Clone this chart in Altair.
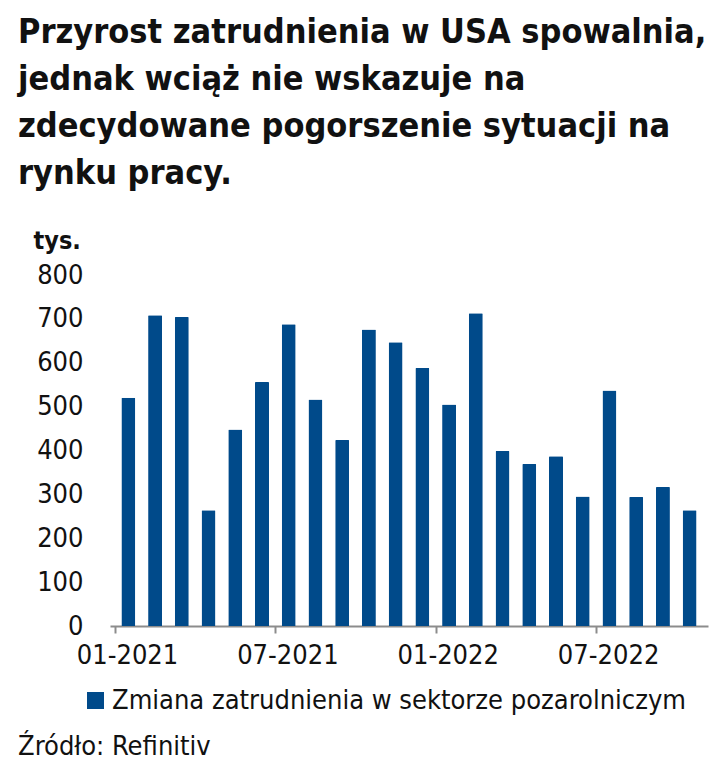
import altair as alt
import pandas as pd

months = list(range(22))  # Jan 2021 .. Oct 2022
values = [520, 708, 704, 264, 448, 556, 688, 516, 424, 676, 647, 588,
          505, 713, 399, 369, 387, 295, 537, 294, 317, 264]
tick_labels = ["01-2021", "07-2021", "01-2022", "07-2022"]
series_name = "Zmiana zatrudnienia w sektorze pozarolniczym"
title_lines = ["Przyrost zatrudnienia w USA spowalnia,",
               "jednak wciąż nie wskazuje na",
               "zdecydowane pogorszenie sytuacji na",
               "rynku pracy."]
source_text = "Źródło: Refinitiv"

df = pd.DataFrame({"m": [m + 0.5 for m in months], "v": values, "s": series_name})

FONT = "DejaVu Sans Condensed"
BLUE = "#004a8a"
TXT = "#111111"

label_expr = "[" + ",".join("'%s'" % t for t in tick_labels) + "][datum.value/6]"

bars = alt.Chart(df).mark_bar(size=14, cornerRadiusTopLeft=1, cornerRadiusTopRight=1).encode(
    x=alt.X("m:Q", scale=alt.Scale(domain=[0, 22], nice=False, zero=False),
            axis=alt.Axis(values=[0, 6, 12, 18], labelExpr=label_expr, title=None,
                          grid=False, domainColor="#8c8c8c", domainWidth=2,
                          tickColor="#8c8c8c", tickWidth=2, tickSize=7,
                          labelPadding=9, labelFontSize=27, labelFont=FONT,
                          labelColor=TXT, labelFlush=False, labelOffset=12)),
    y=alt.Y("v:Q", scale=alt.Scale(domain=[0, 800], nice=False),
            axis=alt.Axis(values=list(range(0, 801, 100)), title="tys.", grid=False,
                          domain=False, ticks=False, labelPadding=27,
                          labelFontSize=27, labelFont=FONT, labelColor=TXT,
                          titleAngle=0, titleX=-77, titleY=-27, titleAlign="left",
                          titleBaseline="alphabetic", titleFont=FONT,
                          titleFontSize=25, titleFontWeight="bold",
                          titleColor=TXT)),
    color=alt.Color("s:N", scale=alt.Scale(range=[BLUE]),
                    legend=alt.Legend(title=None, orient="none", legendX=-28, legendY=412,
                                      symbolType="square", symbolSize=289,
                                      symbolStrokeWidth=0, labelFontSize=27,
                                      labelFont=FONT, labelColor=TXT, labelOffset=3,
                                      labelLimit=700, symbolOffset=0, padding=0)),
)

title_df = pd.DataFrame({"t": title_lines, "i": list(range(len(title_lines)))})
title = alt.Chart(title_df).mark_text(
    align="left", baseline="alphabetic", font=FONT, fontSize=34, fontWeight="bold",
    color=TXT
).encode(
    text="t:N",
    x=alt.value(-92),
    y=alt.Y("i:Q", axis=None,
            scale=alt.Scale(domain=[0, 3], range=[-232, -91], nice=False, zero=False)),
)

src = alt.Chart(pd.DataFrame({"t": [source_text]})).mark_text(
    align="left", baseline="alphabetic", font=FONT, fontSize=27, color=TXT
).encode(text="t:N", x=alt.value(-92), y=alt.value(480))

chart = alt.layer(bars, title, src).resolve_scale(y="independent").properties(
    width=598, height=351, autosize="none",
    padding={"left": 110, "top": 275, "right": 14, "bottom": 146},
    background="white",
).configure_view(stroke=None)

chart.save("out.html", embed_options={"renderer": "svg", "actions": False})
